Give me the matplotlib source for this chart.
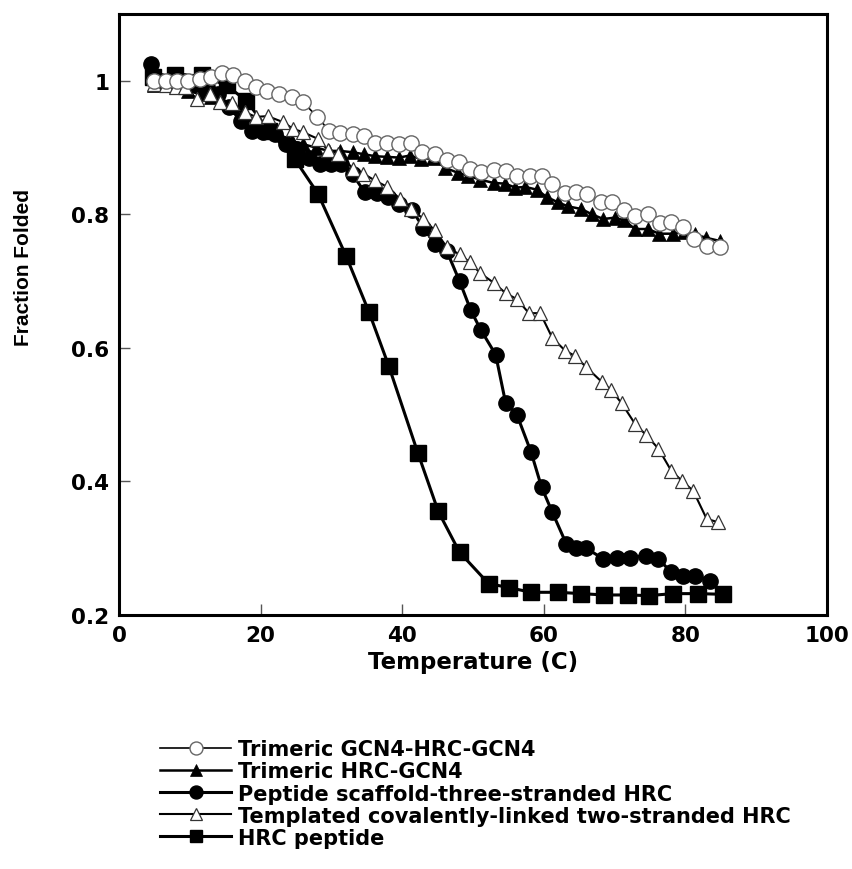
import matplotlib
matplotlib.use("Agg")
import matplotlib.pyplot as plt

plt.rcParams['font.family'] = ['DejaVu Sans']
plt.rcParams['font.weight'] = 'bold'

# Trimeric GCN4-HRC-GCN4 (open circles)
gcn_hrc_gcn_T = [5, 6.6, 8.2, 9.8, 11.4, 13.0, 14.5, 16.1, 17.8, 19.4, 20.9, 22.6, 24.4,
                 26.0, 28.0, 29.7, 31.2, 33.0, 34.6, 36.2, 37.9, 39.5, 41.2, 42.8, 44.6,
                 46.3, 48.0, 49.6, 51.1, 53.0, 54.6, 56.2, 58.0, 59.7, 61.2, 63.0, 64.6,
                 66.1, 68.1, 69.7, 71.3, 72.9, 74.7, 76.4, 78.0, 79.7, 81.2, 83.0, 84.9]
gcn_hrc_gcn_F = [1.0, 1.0, 1.0, 1.0, 1.003, 1.005, 1.012, 1.008, 1.0, 0.991, 0.985, 0.98,
                 0.976, 0.968, 0.946, 0.925, 0.922, 0.921, 0.917, 0.907, 0.907, 0.905,
                 0.907, 0.893, 0.891, 0.881, 0.878, 0.868, 0.864, 0.867, 0.865, 0.858,
                 0.858, 0.857, 0.846, 0.832, 0.833, 0.831, 0.818, 0.818, 0.806, 0.797,
                 0.80, 0.787, 0.788, 0.781, 0.763, 0.753, 0.751]

# Trimeric HRC-GCN4 (filled triangles)
hrc_gcn_T = [5, 6.6, 8.2, 9.8, 11.4, 13.0, 14.5, 16.1, 17.8, 19.4, 21.0, 22.6, 24.4, 26.0,
             27.8, 29.6, 31.2, 33.0, 34.6, 36.2, 37.9, 39.5, 41.1, 42.6, 44.4, 46.0, 47.9,
             49.3, 51.0, 52.9, 54.5, 56.0, 57.4, 59.0, 60.4, 62.0, 63.4, 65.3, 66.8, 68.4,
             70.0, 71.3, 72.9, 74.7, 76.3, 78.2, 79.8, 81.3, 82.9, 84.9]
hrc_gcn_F = [0.993, 0.995, 0.99, 0.985, 0.98, 0.975, 0.97, 0.96, 0.95, 0.94, 0.93, 0.92,
             0.91, 0.905, 0.90, 0.895, 0.895, 0.893, 0.89, 0.887, 0.886, 0.885, 0.888,
             0.883, 0.884, 0.87, 0.862, 0.858, 0.852, 0.847, 0.846, 0.84, 0.841, 0.837,
             0.826, 0.818, 0.812, 0.808, 0.80, 0.793, 0.795, 0.791, 0.778, 0.778, 0.771,
             0.771, 0.773, 0.77, 0.765, 0.760]

# Peptide scaffold-three-stranded HRC (filled circles)
scaffold_T = [4.5, 6.0, 7.6, 9.2, 10.8, 12.4, 14.0, 15.6, 17.2, 18.8, 20.4, 22.0, 23.6,
              25.2, 26.8, 28.4, 30.0, 31.4, 33.0, 34.7, 36.4, 38.0, 39.6, 41.4, 43.0,
              44.6, 46.3, 48.1, 49.7, 51.1, 53.2, 54.6, 56.2, 58.2, 59.7, 61.2, 63.2,
              64.6, 66.0, 68.4, 70.3, 72.2, 74.5, 76.2, 78.0, 79.7, 81.3, 83.5]
scaffold_F = [1.025, 1.0, 1.0, 1.0, 0.995, 0.99, 0.98, 0.96, 0.94, 0.925, 0.923, 0.92,
              0.905, 0.898, 0.885, 0.876, 0.876, 0.876, 0.86, 0.833, 0.832, 0.826, 0.815,
              0.806, 0.78, 0.756, 0.745, 0.70, 0.656, 0.627, 0.59, 0.518, 0.50, 0.444,
              0.391, 0.354, 0.306, 0.30, 0.30, 0.284, 0.286, 0.286, 0.289, 0.284, 0.264,
              0.259, 0.259, 0.251]

# Templated covalently-linked two-stranded HRC (open triangles)
templ_T = [5, 6.6, 8.0, 9.3, 11.0, 12.8, 14.3, 15.9, 17.8, 19.3, 21.0, 23.2, 24.6, 26.0,
           28.1, 29.5, 31.0, 33.1, 34.5, 36.1, 37.9, 39.7, 41.3, 43.0, 44.6, 46.3, 48.1,
           49.6, 51.0, 53.0, 54.6, 56.2, 57.9, 59.5, 61.2, 63.0, 64.4, 66.0, 68.2, 69.5,
           71.0, 72.9, 74.5, 76.2, 78.0, 79.5, 81.1, 83.0, 84.6]
templ_F = [0.995, 0.993, 0.99, 0.99, 0.973, 0.98, 0.968, 0.966, 0.953, 0.946, 0.947,
           0.938, 0.928, 0.923, 0.913, 0.896, 0.891, 0.868, 0.861, 0.851, 0.841, 0.823,
           0.808, 0.793, 0.776, 0.751, 0.74, 0.728, 0.712, 0.697, 0.682, 0.673, 0.652,
           0.652, 0.615, 0.596, 0.588, 0.571, 0.549, 0.537, 0.517, 0.486, 0.469, 0.449,
           0.416, 0.401, 0.386, 0.344, 0.339]

# HRC peptide (filled squares)
hrc_T = [4.8, 7.9, 11.7, 15.2, 18.0, 21.2, 24.8, 28.1, 32.1, 35.3, 38.1, 42.2, 45.1,
         48.1, 52.2, 55.1, 58.2, 62.0, 65.3, 68.5, 71.9, 74.8, 78.2, 81.8, 85.3]
hrc_F = [1.005, 1.008, 1.008, 0.993, 0.97, 0.925, 0.883, 0.831, 0.737, 0.654, 0.573,
         0.443, 0.355, 0.294, 0.247, 0.241, 0.234, 0.234, 0.232, 0.23, 0.23, 0.229,
         0.232, 0.232, 0.231]

labels = ["Trimeric GCN4-HRC-GCN4", "Trimeric HRC-GCN4",
          "Peptide scaffold-three-stranded HRC",
          "Templated covalently-linked two-stranded HRC", "HRC peptide"]

fig = plt.figure(figsize=(8.52, 8.70), dpi=100)
ax = fig.add_axes([119 / 852, 1 - 616 / 870, (827 - 119) / 852, (616 - 15) / 870])

l2, = ax.plot(hrc_gcn_T, hrc_gcn_F, color='black', lw=1.8, marker='^', ms=10,
              mfc='black', mec='black', mew=0.5, zorder=2)
l5, = ax.plot(hrc_T, hrc_F, color='black', lw=2.2, marker='s', ms=11,
              mfc='black', mec='black', zorder=3)
l3, = ax.plot(scaffold_T, scaffold_F, color='black', lw=2.2, marker='o', ms=11,
              mfc='black', mec='black', zorder=4)
l4, = ax.plot(templ_T, templ_F, color='black', lw=1.5, marker='^', ms=10,
              mfc='white', mec='#333333', mew=0.9, zorder=5)
l1, = ax.plot(gcn_hrc_gcn_T, gcn_hrc_gcn_F, color='black', lw=1.2, marker='o', ms=11,
              mfc='white', mec='#666666', mew=1.0, zorder=6)

ax.set_xlim(0, 100)
ax.set_ylim(0.2, 1.1)
ax.set_xticks([0, 20, 40, 60, 80, 100])
ax.set_yticks([0.2, 0.4, 0.6, 0.8, 1.0])
ax.set_yticklabels(["0.2", "0.4", "0.6", "0.8", "1"])
ax.tick_params(direction='in', length=8, width=1, color='#555555',
               labelsize=15.5, pad=7)
for sp in ax.spines.values():
    sp.set_linewidth(2.2)

ax.set_xlabel("Temperature (C)", fontsize=16.5, fontweight='bold', labelpad=4)
ax.set_ylabel("Fraction Folded", fontsize=15, fontweight='bold',
              family='Liberation Sans')
ax.yaxis.set_label_coords(-0.122, (616 - 268) / 601)

fig.legend([l1, l2, l3, l4, l5], labels, loc='upper left',
           bbox_to_anchor=(150 / 852, 1 - 730 / 870), frameon=False,
           fontsize=15, handlelength=3.4, handletextpad=0.3,
           labelspacing=0.1, borderpad=0, markerscale=0.85)

fig.savefig('out.png', dpi=100)
